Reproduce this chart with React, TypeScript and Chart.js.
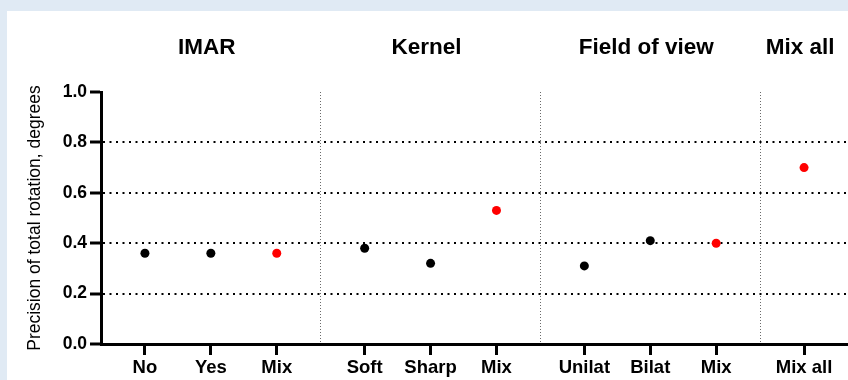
import React, { useEffect, useRef } from "react";
import { Chart, registerables } from "chart.js";

Chart.register(...registerables);

// Groups of acquisition settings and the categories compared inside each.
const groupTitles = ["IMAR", "Kernel", "Field of view", "Mix all"];
const categoryLabels = ["No", "Yes", "Mix", "Soft", "Sharp", "Mix", "Unilat", "Bilat", "Mix", "Mix all"];
const categoryGroup = [0, 0, 0, 1, 1, 1, 2, 2, 2, 3];
// Precision of total rotation (degrees) per category.
const precision = [0.36, 0.36, 0.36, 0.38, 0.32, 0.53, 0.31, 0.41, 0.4, 0.7];
// Mixed-setting results are highlighted in red.
const isMixed = [false, false, true, false, false, true, false, false, true, true];
const yTicks = [0, 0.2, 0.4, 0.6, 0.8, 1.0];
const yTitle = "Precision of total rotation, degrees";

const FONT = "'Liberation Sans', Arial, sans-serif";

// Slot layout on the x axis: each group takes 10 units, items 3 units apart.
const GROUP_SPAN = 10;
const ITEM_STEP = 3;
const itemIndex = categoryGroup.map((g, i) => categoryGroup.slice(0, i).filter((x) => x === g).length);
const xPos = categoryGroup.map((g, i) => g * GROUP_SPAN + itemIndex[i] * ITEM_STEP);
const groupCenters = groupTitles.map((_, g) => {
  const xs = xPos.filter((_, i) => categoryGroup[i] === g);
  return (Math.min(...xs) + Math.max(...xs)) / 2;
});
const separators = groupTitles.slice(1).map((_, g) => (g + 1) * GROUP_SPAN - 2);
const X_MIN = -2;
const X_MAX = 32;

// Horizontal axes share the full plot width: no extra edge padding for labels.
const noEdgePadding = (scale: any, height: number) => {
  scale.height = height;
  scale.paddingLeft = 0;
  scale.paddingRight = 0;
};

export default function App() {
  const canvasRef = useRef<HTMLCanvasElement | null>(null);

  useEffect(() => {
    const canvas = canvasRef.current;
    if (!canvas) return;

    const chart = new Chart(canvas, {
      type: "scatter",
      data: {
        datasets: [
          {
            data: precision.map((v, i) => ({ x: xPos[i], y: v })),
            pointRadius: 4.5,
            pointHoverRadius: 4.5,
            borderWidth: 0,
            backgroundColor: isMixed.map((m) => (m ? "#ff0000" : "#000000")),
            pointBorderColor: isMixed.map((m) => (m ? "#ff0000" : "#000000")),
            xAxisID: "x",
            yAxisID: "y",
          },
        ],
      },
      options: {
        responsive: false,
        animation: false,
        layout: { padding: 0, autoPadding: false },
        plugins: {
          legend: { display: false },
          tooltip: { enabled: false },
        },
        scales: {
          x: {
            type: "linear",
            position: "bottom",
            min: X_MIN,
            max: X_MAX,
            afterBuildTicks: (scale: any) => {
              scale.ticks = xPos.map((v) => ({ value: v }));
            },
            afterFit: (scale: any) => noEdgePadding(scale, 36),
            ticks: {
              autoSkip: false,
              maxRotation: 0,
              padding: 2,
              color: "#000",
              font: { family: FONT, size: 18.5, weight: "bold" },
              callback: (_v: any, i: number) => categoryLabels[i],
            },
            grid: {
              drawOnChartArea: false,
              drawTicks: true,
              tickLength: 11,
              tickWidth: 3,
              tickColor: "#000",
            },
            border: { display: true, color: "#000", width: 3 },
          },
          groups: {
            type: "linear",
            position: "top",
            min: X_MIN,
            max: X_MAX,
            afterBuildTicks: (scale: any) => {
              scale.ticks = groupCenters.map((v) => ({ value: v }));
            },
            afterFit: (scale: any) => noEdgePadding(scale, 92),
            ticks: {
              autoSkip: false,
              maxRotation: 0,
              padding: 0,
              labelOffset: -4,
              color: "#000",
              font: { family: FONT, size: 22.5, weight: "bold" },
              callback: (_v: any, i: number) => groupTitles[i],
            },
            grid: { display: false, drawTicks: true, tickLength: 31 },
            border: { display: false },
          },
          sep: {
            type: "linear",
            position: "top",
            min: X_MIN,
            max: X_MAX,
            afterBuildTicks: (scale: any) => {
              scale.ticks = separators.map((v) => ({ value: v }));
            },
            afterFit: (scale: any) => noEdgePadding(scale, 0),
            ticks: { display: false },
            grid: {
              display: true,
              drawOnChartArea: true,
              drawTicks: false,
              color: "#6b6b6b",
              lineWidth: 1,
            },
            border: { display: false, dash: [1, 2] },
          },
          y: {
            type: "linear",
            position: "left",
            min: 0,
            max: 1,
            afterBuildTicks: (scale: any) => {
              scale.ticks = yTicks.map((v) => ({ value: v }));
            },
            afterFit: (scale: any) => {
              scale.width = 101;
              scale.paddingTop = 0;
              scale.paddingBottom = 0;
            },
            ticks: {
              padding: 3,
              color: "#000",
              font: { family: FONT, size: 17.5, weight: "bold" },
              callback: (v: any) => Number(v).toFixed(1),
            },
            title: {
              display: true,
              text: yTitle,
              color: "#000",
              padding: { top: 25, bottom: 0 },
              font: { family: FONT, size: 17.5, weight: "normal" },
            },
            grid: {
              drawOnChartArea: true,
              drawTicks: true,
              tickLength: 11,
              tickWidth: 3,
              tickColor: "#000",
              lineWidth: 2,
              color: (ctx: any) =>
                ctx.tick && ctx.tick.value > 0 && ctx.tick.value < 1 ? "#000" : "rgba(0,0,0,0)",
            },
            border: { display: true, color: "#000", width: 3, dash: [2, 4.5] },
          },
        },
      },
    });

    return () => chart.destroy();
  }, []);

  return (
    <div
      style={{
        position: "fixed",
        left: 0,
        top: 0,
        width: 848,
        height: 380,
        background: "#e0eaf4",
        overflow: "hidden",
      }}
    >
      <div
        style={{
          position: "absolute",
          left: 7,
          top: 11,
          right: 0,
          bottom: 0,
          background: "#ffffff",
        }}
      />
      <canvas
        ref={canvasRef}
        width={848}
        height={380}
        style={{ position: "absolute", left: 0, top: 0, width: 848, height: 380 }}
      />
    </div>
  );
}
